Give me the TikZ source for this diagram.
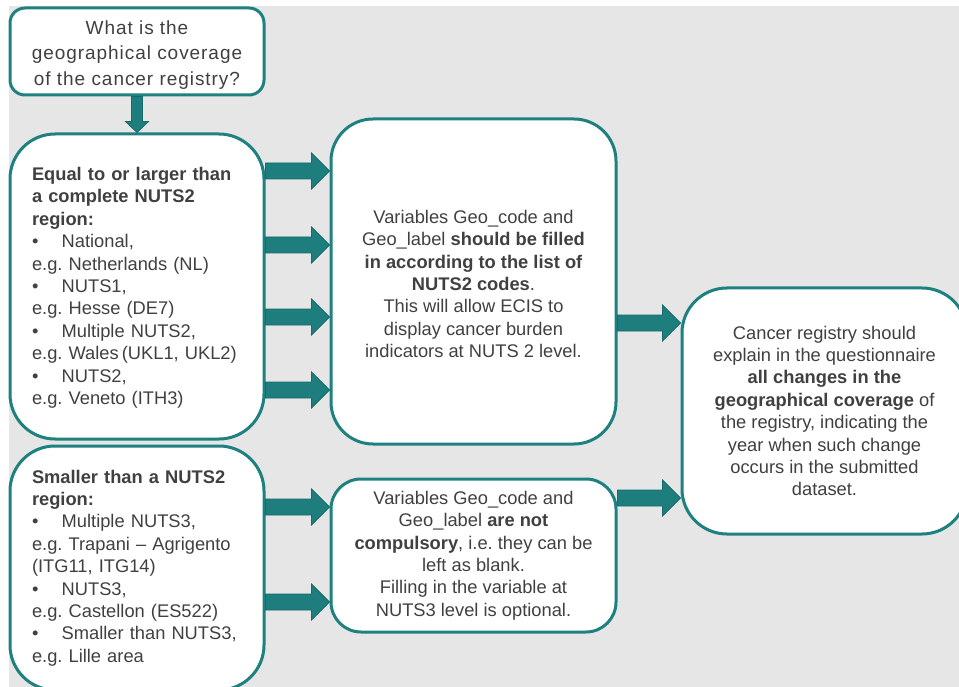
\documentclass[tikz,border=0pt]{standalone}
\usepackage{fontspec}
\setmainfont{Liberation Sans}
\newfontfamily\spacedfont[LetterSpace=5]{Liberation Sans}
\usetikzlibrary{calc}
\definecolor{bordercol}{HTML}{1F8080}
\definecolor{arrowfill}{HTML}{1E7E7E}
\definecolor{arrowline}{HTML}{176B6B}
\definecolor{bgcol}{HTML}{E6E6E6}
\definecolor{txtcol}{HTML}{404040}
\tikzset{
  box/.style={draw=bordercol, line width=3pt, fill=white, text=txtcol, inner sep=0pt,
    font=\fontsize{18.3}{22.4}\selectfont\frenchspacing},
  blockarr/.style={fill=arrowfill, draw=arrowline, line width=0.8pt},
}
\newcommand\blockarrow[3]{%
  \draw[blockarr] let \p1=(#1.east |- #3), \p2=(#2.west |- #3) in
    (\x1,\y1+8pt) -- (\x2-18pt,\y1+8pt) -- (\x2-18pt,\y1+18pt) -- (\x2,\y1)
    -- (\x2-18pt,\y1-18pt) -- (\x2-18pt,\y1-8pt) -- (\x1,\y1-8pt) -- cycle;}
\newcommand\bul{\makebox[29.7pt][l]{•}}
\begin{document}
\frenchspacing
\begin{tikzpicture}[x=1pt,y=-1pt]
\useasboundingbox (0,0) rectangle (959,687);
\fill[bgcol] (9,6) rectangle (959,687);
% arrow rows
\coordinate (r1) at (0,171);
\coordinate (r2) at (0,245);
\coordinate (r3) at (0,317);
\coordinate (r4) at (0,390);
\coordinate (r5) at (0,507);
\coordinate (r6) at (0,602);
\coordinate (r7) at (0,323);
\coordinate (r8) at (0,498);
% boxes
\node[box, rounded corners=15pt, minimum width=254pt, minimum height=87pt, align=center,
  font=\spacedfont\fontsize{19}{25.5}\selectfont] (top) at (137,51.5)
  {\rule{0pt}{20pt}What is the\\geographical coverage\\of the cancer registry?};
\node[box, rounded corners=45pt, minimum width=254pt, minimum height=305pt, text width=210pt, align=left]
  (big) at (137,286.5)
  {\rule{0pt}{16pt}\textbf{Equal to or larger than}\\
   \textbf{a complete NUTS2}\\
   \textbf{region:}\\
   \bul National,\\
   e.g. Netherlands (NL)\\
   \bul NUTS1,\\
   e.g. Hesse (DE7)\\
   \bul Multiple NUTS2,\\
   e.g. Wales\,(UKL1, UKL2)\\
   \bul NUTS2,\\
   e.g. Veneto (ITH3)};
\node[box, rounded corners=45pt, minimum width=254pt, minimum height=244pt, text width=210pt, align=left]
  (small) at (137,568)
  {\textbf{Smaller than a NUTS2}\\
   \textbf{region:}\\
   \bul Multiple NUTS3,\\
   e.g. Trapani -- Agrigento\\
   (ITG11, ITG14)\\
   \bul NUTS3,\\
   e.g. Castellon (ES522)\\
   \bul Smaller than NUTS3,\\
   e.g. Lille area};
\node[box, rounded corners=42pt, minimum width=285pt, minimum height=325pt, align=center]
  (fill) at (473.5,281.5)
  {\rule{0pt}{18pt}Variables Geo\_code and\\
   Geo\_label \textbf{should be filled}\\
   \textbf{in according to the list of}\\
   \textbf{NUTS2 codes}.\\
   This will allow ECIS to\\
   display cancer burden\\
   indicators at NUTS 2 level.};
\node[box, rounded corners=30pt, minimum width=285pt, minimum height=153pt, align=center]
  (opt) at (473.5,555.5)
  {Variables Geo\_code and\\
   Geo\_label \textbf{are not}\\
   \textbf{compulsory}, i.e. they can be\\
   left as blank.\\
   Filling in the variable at\\
   NUTS3 level is optional.};
\node[box, rounded corners=45pt, minimum width=285pt, minimum height=246pt, align=center]
  (expl) at (824.5,411)
  {Cancer registry should\\
   explain in the questionnaire\\
   \textbf{all changes in the}\\
   \textbf{geographical coverage} of\\
   the registry, indicating the\\
   year when such change\\
   occurs in the submitted\\
   dataset.};
% connectors
\blockarrow{big}{fill}{r1}
\blockarrow{big}{fill}{r2}
\blockarrow{big}{fill}{r3}
\blockarrow{big}{fill}{r4}
\blockarrow{small}{opt}{r5}
\blockarrow{small}{opt}{r6}
\blockarrow{fill}{expl}{r7}
\blockarrow{opt}{expl}{r8}
\draw[blockarr] let \p1=(top.south), \p2=(big.north) in
  (\x1-5.5pt,\y1) -- (\x1-5.5pt,\y2+11pt) -- (\x1-11.5pt,\y2+11pt) -- (\x1,\y2)
  -- (\x1+11.5pt,\y2+11pt) -- (\x1+5.5pt,\y2+11pt) -- (\x1+5.5pt,\y1) -- cycle;
\end{tikzpicture}
\end{document}
